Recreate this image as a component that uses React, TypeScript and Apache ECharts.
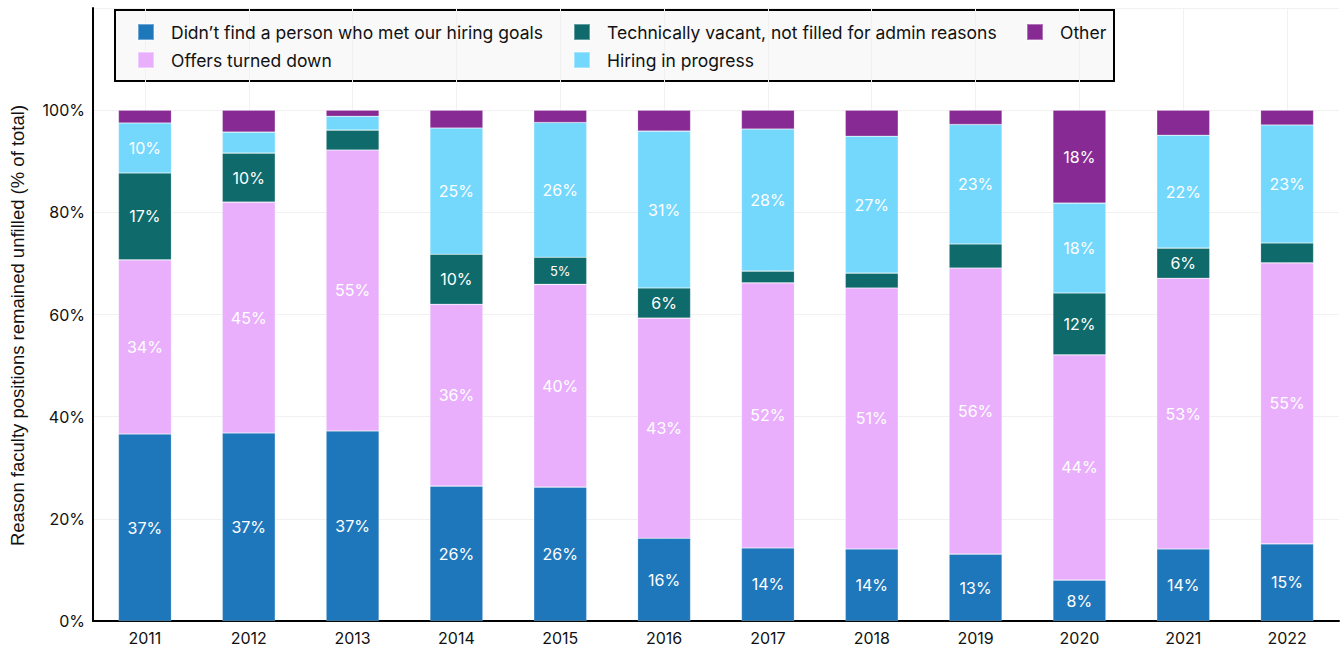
import React, { useEffect, useRef } from "react";
import * as echarts from "echarts";

const years = ["2011", "2012", "2013", "2014", "2015", "2016", "2017", "2018", "2019", "2020", "2021", "2022"];
const seriesNames = [
  "Didn’t find a person who met our hiring goals",
  "Offers turned down",
  "Technically vacant, not filled for admin reasons",
  "Hiring in progress",
  "Other",
];
const didntFind = [36.6, 36.8, 37.2, 26.4, 26.2, 16.2, 14.3, 14.1, 13.1, 8.0, 14.1, 15.1];
const offersDown = [34.1, 45.2, 55.0, 35.6, 39.7, 43.1, 51.9, 51.1, 56.0, 44.1, 53.0, 55.0];
const techVacant = [17.0, 9.6, 3.9, 9.8, 5.3, 5.9, 2.3, 2.9, 4.7, 12.1, 5.9, 3.9];
const hiringProgress = [9.8, 4.1, 2.7, 24.7, 26.4, 30.7, 27.8, 26.8, 23.4, 17.6, 22.1, 23.1];
const other = [2.5, 4.3, 1.2, 3.5, 2.4, 4.1, 3.7, 5.1, 2.8, 18.2, 4.9, 2.9];
const colors = ["#1f77bb", "#e9affc", "#0f6a6b", "#74d8fd", "#872a93"];

const FONT = "Inter, 'Noto Sans', sans-serif";

export default function App() {
  const ref = useRef<HTMLDivElement>(null);
  useEffect(() => {
    if (!ref.current) return;
    const chart = echarts.init(ref.current, null, { renderer: "svg" });
    const allData = [didntFind, offersDown, techVacant, hiringProgress, other];
    const series = allData.map((arr, i) => ({
      name: seriesNames[i],
      type: "bar",
      stack: "total",
      barWidth: "51%",
      itemStyle: { color: colors[i], borderColor: "rgba(255,255,255,0.35)", borderWidth: 0.6 },
      emphasis: { disabled: true },
      data: arr.map((v) => ({
        value: v,
        label: v < 5.6 ? { fontSize: 13 } : undefined,
      })),
      label: {
        show: true,
        position: "inside",
        color: "#ffffff",
        fontSize: 16,
        fontFamily: FONT,
        formatter: (p: any) => (p.value < 5.2 ? "" : Math.round(p.value) + "%"),
      },
    }));
    const legendCommon = {
      orient: "vertical",
      top: 18,
      itemWidth: 16,
      itemHeight: 16,
      itemGap: 10,
      icon: "rect",
      selectedMode: false,
      textStyle: { fontSize: 17.5, color: "#111", fontFamily: FONT, padding: [0, 0, 0, 12] },
    };
    chart.setOption({
      animation: false,
      graphic: [
        {
          type: "rect",
          z: -1,
          shape: { x: 115, y: 10, width: 999, height: 71 },
          style: { fill: "#f9f9f9", stroke: "#000", lineWidth: 2 },
        },
      ],
      legend: [
        { ...legendCommon, left: 132, data: [seriesNames[0], seriesNames[1]] },
        { ...legendCommon, left: 568, data: [seriesNames[2], seriesNames[3]] },
        { ...legendCommon, left: 1021, data: [seriesNames[4]] },
      ],
      grid: { left: 88, right: 4, top: 8, bottom: 29, containLabel: false },
      xAxis: {
        type: "category",
        data: years,
        axisLine: { lineStyle: { color: "#000", width: 2 } },
        axisTick: { show: false, alignWithLabel: true },
        axisLabel: { color: "#111", fontSize: 16, fontFamily: FONT, margin: 9 },
        splitLine: { show: true, alignWithLabel: true, lineStyle: { color: "#f1f1f1" } },
      },
      yAxis: {
        type: "value",
        min: 0,
        max: 120,
        interval: 20,
        name: "Reason faculty positions remained unfilled (% of total)",
        nameLocation: "middle",
        nameGap: 66,
        nameTextStyle: {
          fontSize: 18.5,
          color: "#111",
          fontFamily: "'Liberation Sans', Arial, sans-serif",
          padding: [0, 22, 0, 0],
        },
        axisLine: { show: true, lineStyle: { color: "#000", width: 2 } },
        axisTick: { show: false },
        axisLabel: {
          color: "#111",
          fontSize: 16,
          fontFamily: FONT,
          margin: 8,
          formatter: (v: number) => (v > 100 ? "" : v + "%"),
        },
        splitLine: { show: true, lineStyle: { color: "#f1f1f1" } },
      },
      series,
    });
    return () => chart.dispose();
  }, []);
  return (
    <div
      ref={ref}
      style={{ position: "fixed", left: 0, top: 0, width: 1343, height: 650, background: "#fff" }}
    />
  );
}
